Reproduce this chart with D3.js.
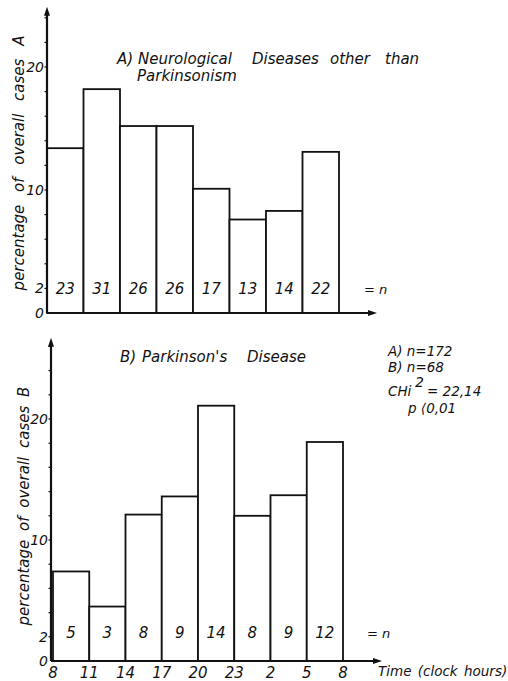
<!DOCTYPE html>
<html>
<head>
<meta charset="utf-8">
<script src="https://cdn.jsdelivr.net/npm/d3@7"></script>
<style>
  body { margin: 0; background: #fff; }
  text { font-family: "DejaVu Sans", "Liberation Sans", sans-serif; font-style: italic; fill: #111; }
</style>
</head>
<body>
<div id="chart"></div>
<script>
// data
const hourLabels = ["8", "11", "14", "17", "20", "23", "2", "5", "8"];
const countsA = [23, 31, 26, 26, 17, 13, 14, 22];
const percentA = [13.4, 18.2, 15.2, 15.2, 10.1, 7.6, 8.3, 13.1];
const countsB = [5, 3, 8, 9, 14, 8, 9, 12];
const percentB = [7.4, 4.5, 12.1, 13.6, 21.1, 12.0, 13.7, 18.1];
const yTickValues = [0, 2, 10, 20];
const yMinorTicks = d3.range(0, 27, 2);
const statsLines = ["A) n=172", "B) n=68"];

const width = 508;
const height = 681;
const ink = "#111";

const svg = d3.select("#chart").append("svg")
  .attr("width", width)
  .attr("height", height);

// one panel: bars, axes, labels
const drawPanel = (cfg) => {
  const g = svg.append("g");

  const x = d3.scaleLinear().domain([0, 8]).range([cfg.x0, cfg.x1]);
  const y = d3.scaleLinear().domain([0, 20]).range([cfg.yZero, cfg.yTwenty]);

  // bars
  g.selectAll(".bar")
    .data(cfg.values)
    .join("rect")
      .attr("class", "bar")
      .attr("x", (d, i) => x(i))
      .attr("width", x(1) - x(0))
      .attr("y", d => y(d))
      .attr("height", d => y(0) - y(d))
      .attr("fill", "#fff")
      .attr("stroke", ink)
      .attr("stroke-width", 1.8);

  // counts inside bars
  g.selectAll(".count")
    .data(cfg.counts)
    .join("text")
      .attr("class", "count")
      .attr("x", (d, i) => x(i + 0.5))
      .attr("y", cfg.countY)
      .attr("text-anchor", "middle")
      .attr("font-size", 15)
      .text(d => d);

  g.append("text")
    .attr("x", cfg.nX)
    .attr("y", cfg.countY)
    .attr("font-size", 13)
    .text("= n");

  // y axis with arrow
  const yTop = y(cfg.yArrow);
  g.append("line")
    .attr("x1", cfg.axisX).attr("x2", cfg.axisX)
    .attr("y1", y(0)).attr("y2", yTop)
    .attr("stroke", ink).attr("stroke-width", 2.2);
  g.append("path")
    .attr("d", `M${cfg.axisX},${yTop - 5} L${cfg.axisX - 3},${yTop + 4} L${cfg.axisX + 3},${yTop + 4} Z`)
    .attr("fill", ink);

  g.selectAll(".minor")
    .data(yMinorTicks.filter(d => d > 0 && d < cfg.yArrow))
    .join("line")
      .attr("class", "minor")
      .attr("x1", cfg.axisX - 2.5).attr("x2", cfg.axisX)
      .attr("y1", d => y(d)).attr("y2", d => y(d))
      .attr("stroke", ink).attr("stroke-width", 1.2);

  g.selectAll(".ytick")
    .data(yTickValues)
    .join("text")
      .attr("class", "ytick")
      .attr("x", cfg.axisX - 3)
      .attr("y", d => y(d) + 5)
      .attr("text-anchor", "end")
      .attr("font-size", 14)
      .text(d => d);

  // x axis with arrow
  g.append("line")
    .attr("x1", cfg.axisX).attr("x2", cfg.xArrow)
    .attr("y1", y(0)).attr("y2", y(0))
    .attr("stroke", ink).attr("stroke-width", 2.2);
  g.append("path")
    .attr("d", `M${cfg.xArrow + 5},${y(0)} L${cfg.xArrow - 4},${y(0) - 3} L${cfg.xArrow - 4},${y(0) + 3} Z`)
    .attr("fill", ink);

  // rotated y label
  g.append("text")
    .attr("transform", `translate(${cfg.labelX}, ${cfg.labelY}) rotate(-90)`)
    .attr("text-anchor", "middle")
    .attr("font-size", 15)
    .attr("word-spacing", cfg.labelSpacing)
    .text(cfg.yLabel);

  return {x, y, g};
};

// positioned words for wide-spaced headings
const wordLine = (g, words, xs, yPos, size) => {
  const t = g.append("text").attr("y", yPos).attr("font-size", size);
  t.selectAll("tspan")
    .data(words)
    .join("tspan")
      .attr("x", (d, i) => xs[i])
      .text(d => d);
  return t;
};

// Panel A
const panelA = drawPanel({
  values: percentA, counts: countsA,
  x0: 47, x1: 339, axisX: 47, xArrow: 372,
  yZero: 313, yTwenty: 67, yArrow: 24.5,
  countY: 294, nX: 364,
  labelX: 24, labelY: 163, labelSpacing: 8,
  yLabel: "percentage of overall cases A"
});

wordLine(panelA.g, ["A)", "Neurological", "Diseases", "other", "than"],
  [117, 138, 252, 330, 385], 64, 15);
wordLine(panelA.g, ["Parkinsonism"], [137], 81, 15);

// Panel B
const panelB = drawPanel({
  values: percentB, counts: countsB,
  x0: 53, x1: 343, axisX: 51, xArrow: 377,
  yZero: 661, yTwenty: 419, yArrow: 26.3,
  countY: 638, nX: 367,
  labelX: 29, labelY: 506, labelSpacing: 4,
  yLabel: "percentage of overall cases B"
});

wordLine(panelB.g, ["B)", "Parkinson's", "Disease"], [120, 142, 247], 362, 15);

// hour labels under panel B
panelB.g.selectAll(".hour")
  .data(hourLabels)
  .join("text")
    .attr("class", "hour")
    .attr("x", (d, i) => panelB.x(i))
    .attr("y", 678)
    .attr("text-anchor", "middle")
    .attr("font-size", 15)
    .text(d => d);

panelB.g.append("text")
  .attr("x", 378).attr("y", 676)
  .attr("font-size", 13.5)
  .attr("word-spacing", 2)
  .text("Time (clock hours)");

// statistics block
const stats = svg.append("g").attr("font-size", 13.5);
stats.selectAll(".stat")
  .data(statsLines)
  .join("text")
    .attr("class", "stat")
    .attr("x", 388)
    .attr("y", (d, i) => 356 + i * 16)
    .text(d => d);

stats.append("text").attr("x", 388).attr("y", 396).text("CHi");
stats.append("text").attr("x", 415).attr("y", 387).attr("font-size", 14).text("2");
stats.append("text").attr("x", 427).attr("y", 396).text("= 22,14");

stats.append("text")
  .attr("x", 408).attr("y", 413)
  .text("p \u27E80,01");
</script>
</body>
</html>
